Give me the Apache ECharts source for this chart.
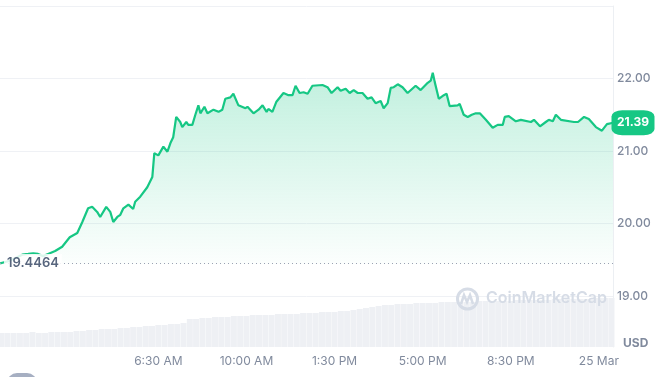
<!DOCTYPE html>
<html>
<head>
<meta charset="utf-8">
<script src="https://cdn.jsdelivr.net/npm/echarts@6/dist/echarts.min.js"></script>
<style>html,body{margin:0;padding:0;background:#fff;}#c{width:666px;height:377px;}</style>
</head>
<body>
<div id="c"></div>
<script>
// Hours since 24 Mar 00:00
const priceHours = [0.21,0.53,0.81,1.09,1.33,1.53,1.72,1.92,2.12,2.40,2.68,2.98,3.28,3.48,3.71,3.87,4.07,4.19,4.43,4.59,4.71,4.87,4.99,5.11,5.31,5.50,5.58,5.78,6.06,6.26,6.34,6.50,6.70,6.86,6.98,7.09,7.21,7.37,7.45,7.61,7.69,7.85,7.97,8.09,8.17,8.33,8.45,8.69,8.89,9.04,9.16,9.36,9.48,9.68,9.96,10.04,10.28,10.48,10.64,10.80,10.87,11.03,11.19,11.47,11.67,11.83,11.95,12.11,12.27,12.43,12.62,13.02,13.22,13.38,13.62,13.74,13.94,14.10,14.26,14.42,14.61,14.81,14.97,15.13,15.33,15.45,15.61,15.73,15.85,16.01,16.20,16.40,16.72,16.92,17.20,17.32,17.40,17.48,17.64,17.84,17.95,18.07,18.39,18.47,18.63,18.79,18.95,19.11,19.27,19.51,19.78,19.98,20.18,20.26,20.42,20.70,20.90,21.30,21.42,21.66,21.89,22.01,22.17,22.29,22.49,23.01,23.17,23.41,23.60,23.88,24.12,24.32,24.56];
const prices = [19.45,19.48,19.52,19.57,19.58,19.59,19.58,19.55,19.58,19.62,19.68,19.81,19.87,20.02,20.21,20.23,20.16,20.09,20.23,20.16,20.02,20.09,20.12,20.21,20.26,20.20,20.30,20.37,20.50,20.64,20.97,20.94,21.06,20.99,21.11,21.19,21.47,21.40,21.33,21.40,21.36,21.36,21.50,21.63,21.52,21.61,21.52,21.57,21.54,21.57,21.72,21.74,21.79,21.63,21.59,21.61,21.52,21.57,21.63,21.54,21.58,21.54,21.68,21.80,21.77,21.77,21.90,21.80,21.81,21.79,21.90,21.91,21.88,21.80,21.88,21.83,21.86,21.80,21.84,21.80,21.80,21.72,21.74,21.66,21.69,21.59,21.66,21.87,21.88,21.92,21.88,21.80,21.90,21.84,21.94,21.97,22.08,21.95,21.72,21.77,21.79,21.62,21.63,21.65,21.50,21.47,21.50,21.52,21.52,21.43,21.32,21.36,21.36,21.47,21.48,21.41,21.43,21.40,21.43,21.34,21.40,21.43,21.41,21.50,21.43,21.40,21.40,21.47,21.44,21.33,21.28,21.37,21.39];
const baselinePrice = 19.4464;
const currentPrice = 21.39;
// volume, one bar every 15 minutes starting 00:15 (arbitrary units)
const volumeStart = 0.25, volumeStep = 0.25;
const volumes = [14,14,14,14,14,15,14,14,15,15, 15,15,16,16,17,17,18, 18,18,19,19,20,20,21, 21,22,22,23,23,24, 28,28,29,29,30,30,30,31,31,31, 32,32,32,32,33,33,33,33,34,34,34,35,35, 35,36,36,37,38,39,40,41, 42,42,43,43,43,44,44,44, 44,45,45,45,45,45,45,46,46,46,46, 46,46,47,47,47,47,47,47,48,48, 48,48,48,48,49,49,49,49];
const xTickHours = [6.5,10,13.5,17,20.5,24];
const xTickLabels = ['6:30 AM','10:00 AM','1:30 PM','5:00 PM','8:30 PM','25 Mar'];
const yTicks = [19,20,21,22];

const xMin = 0.21, xMax = 24.56;
const priceData = priceHours.map((h,i)=>[h,prices[i]]);
const volData = volumes.map((v,i)=>[volumeStart + i*volumeStep, v]);

const chart = echarts.init(document.getElementById('c'), null, {renderer:'canvas'});
const FONT = 'Inter, "Noto Sans", sans-serif';
const axisGray = '#808a9d';
chart.setOption({
  animation:false,
  textStyle:{fontFamily:FONT},
  grid:[
    {left:0,right:53,top:6,height:290},
    {left:0,right:53,top:247,bottom:30}
  ],
  xAxis:[
    {gridIndex:0,type:'value',min:xMin,max:xMax,show:false},
    {gridIndex:1,type:'value',min:xMin,max:xMax,
      axisLine:{show:false},axisTick:{show:false},splitLine:{show:false},
      axisLabel:{customValues:xTickHours,margin:8,color:axisGray,fontSize:12,fontFamily:FONT,
        formatter:(v)=>{const i=xTickHours.indexOf(v);return i>=0?xTickLabels[i]:'';}}}
  ],
  yAxis:[
    {gridIndex:0,type:'value',position:'right',min:19,max:23,interval:1,
      axisLine:{show:true,lineStyle:{color:'#eceff3'}},axisTick:{show:false},
      splitLine:{show:true,lineStyle:{color:'#eff1f5'}},
      axisLabel:{showMaxLabel:false,margin:4,color:axisGray,fontSize:12,fontWeight:500,fontFamily:FONT,
        formatter:(v)=>yTicks.indexOf(v)>=0?v.toFixed(2):''}},
    {gridIndex:1,type:'value',position:'right',min:0,max:100,
      axisLine:{show:true,lineStyle:{color:'#eceff3'}},axisTick:{show:false},
      splitLine:{show:false},axisLabel:{show:false}}
  ],
  series:[
    {type:'bar',xAxisIndex:1,yAxisIndex:1,data:volData,barWidth:6,
      itemStyle:{color:'#eef0f4'},silent:true,z:1},
    {type:'line',xAxisIndex:0,yAxisIndex:0,data:priceData,showSymbol:false,symbol:'none',
      lineStyle:{color:'#16c784',width:2.2},
      areaStyle:{origin:baselinePrice,color:new echarts.graphic.LinearGradient(0,0,0,1,[
        {offset:0,color:'rgba(22,199,132,0.38)'},{offset:1,color:'rgba(22,199,132,0.02)'}])},
      z:3,
      markLine:{silent:true,symbol:['none','none'],
        lineStyle:{color:'#9aa2b3',type:[1,3],width:1},
        label:{show:true,position:'insideStart',distance:4,formatter:'19.4464',color:'#58667e',
          fontSize:13,fontWeight:600,fontFamily:FONT,backgroundColor:'rgba(255,255,255,0.85)',padding:[3,3]},
        data:[{yAxis:baselinePrice}]},
      markPoint:{silent:true,symbol:'roundRect',symbolSize:[43,25],symbolOffset:[20,0],
        itemStyle:{color:'#16c784'},
        label:{show:true,position:'inside',formatter:currentPrice.toFixed(2),color:'#fff',
          fontSize:12,fontWeight:'bold',fontFamily:FONT},
        data:[{coord:[xMax,currentPrice]}]}
    }
  ],
  graphic:[
    {type:'circle',shape:{cx:467.5,cy:299,r:10},style:{fill:'none',stroke:'#d6dce6',lineWidth:3},z:10},
    {type:'polyline',shape:{points:[[461,304],[464,295],[467,302],[470,295],[473,304]]},style:{fill:'none',stroke:'#d6dce6',lineWidth:2.5},z:10},
    {type:'text',left:486,top:290,style:{text:'CoinMarketCap',fill:'#d6dce6',font:'600 16px '+FONT},z:10},
    {type:'text',left:623,top:337,style:{text:'USD',fill:axisGray,font:'bold 12px '+FONT}},
    {type:'rect',shape:{x:7,y:373,width:30,height:20,r:10},style:{fill:'#a6afc2'}}
  ]
});
</script>
</body>
</html>
